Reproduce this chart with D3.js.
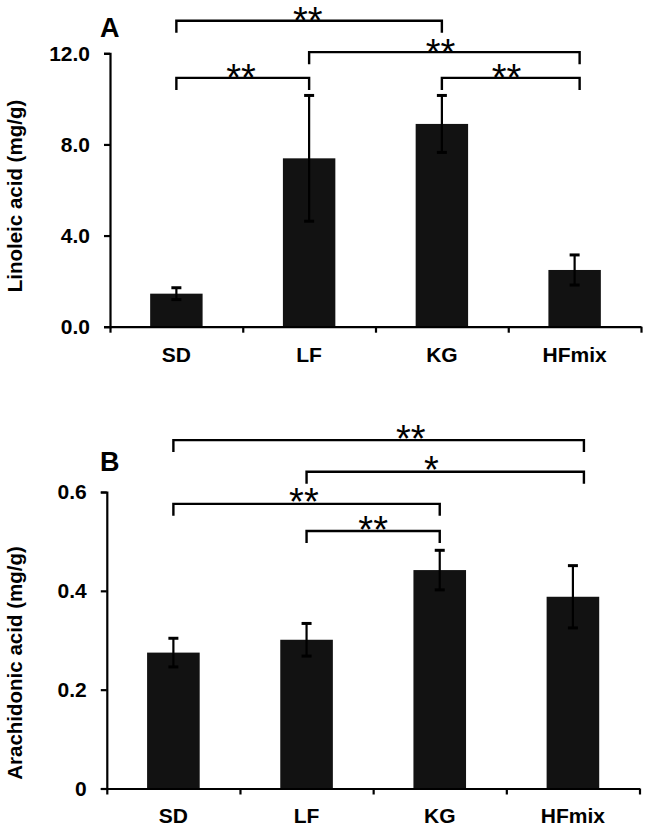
<!DOCTYPE html>
<html>
<head>
<meta charset="utf-8">
<script src="https://cdn.jsdelivr.net/npm/d3@7/dist/d3.min.js"></script>
<style>
  html, body { margin: 0; padding: 0; background: #fff; }
  svg { display: block; }
  text { font-family: "Liberation Sans", Arial, sans-serif; }
</style>
</head>
<body>
<svg id="chart" width="649" height="829"></svg>
<script>
// ---------- DATA ----------
const categories = ["SD", "LF", "KG", "HFmix"];

// Panel A: Linoleic acid (mg/g)
const linoleicMeans = [1.45, 7.39, 8.90, 2.49];
const linoleicErrors = [0.26, 2.76, 1.25, 0.66];
const linoleicTicks = [0, 4, 8, 12];
const linoleicTickLabels = ["0.0", "4.0", "8.0", "12.0"];
const linoleicSigFrom = ["SD", "LF", "SD", "KG"];
const linoleicSigTo = ["KG", "HFmix", "LF", "HFmix"];
const linoleicSigLevel = [13.43, 12.05, 10.92, 10.92];
const linoleicSigText = ["**", "**", "**", "**"];
const linoleicSigTextAt = [0.495, 0.486, 0.487, 0.47];

// Panel B: Arachidonic acid (mg/g)
const arachidonicMeans = [0.275, 0.301, 0.442, 0.388];
const arachidonicErrors = [0.029, 0.033, 0.040, 0.063];
const arachidonicTicks = [0, 0.2, 0.4, 0.6];
const arachidonicTickLabels = ["0", "0.2", "0.4", "0.6"];
const arachidonicSigFrom = ["SD", "LF", "SD", "LF"];
const arachidonicSigTo = ["HFmix", "HFmix", "KG", "KG"];
const arachidonicSigLevel = [0.705, 0.641, 0.576, 0.521];
const arachidonicSigText = ["**", "*", "**", "**"];
const arachidonicSigTextAt = [0.578, 0.45, 0.49, 0.5];

// ---------- DRAWING ----------
const svg = d3.select("#chart");

function drawPanel(o) {
  const g = svg.append("g");
  const xb = d3.scaleBand().domain(categories).range([o.left, o.right]).padding(0);
  const bw = xb.bandwidth();
  const barW = bw * 0.395;
  const cx = c => xb(c) + bw / 2;
  const y = d3.scaleLinear().domain([0, o.ymax]).range([o.bottom, o.top]);

  // bars
  g.selectAll("rect.bar").data(categories).join("rect")
    .attr("class", "bar")
    .attr("x", c => cx(c) - barW / 2)
    .attr("width", barW)
    .attr("y", (c, i) => y(o.means[i]))
    .attr("height", (c, i) => y(0) - y(o.means[i]))
    .attr("fill", "#121212");

  // error bars
  const capW = 10;
  const eb = g.selectAll("g.err").data(categories).join("g").attr("class", "err")
    .attr("stroke", "#000").attr("stroke-width", 2.2).attr("fill", "none");
  eb.append("line")
    .attr("x1", c => cx(c)).attr("x2", c => cx(c))
    .attr("y1", (c, i) => y(o.means[i] + o.errors[i]))
    .attr("y2", (c, i) => y(o.means[i] - o.errors[i]));
  eb.append("line")
    .attr("x1", c => cx(c) - capW / 2).attr("x2", c => cx(c) + capW / 2)
    .attr("y1", (c, i) => y(o.means[i] + o.errors[i]))
    .attr("y2", (c, i) => y(o.means[i] + o.errors[i]))
    .attr("stroke-width", 3);
  eb.append("line")
    .attr("x1", c => cx(c) - capW / 2).attr("x2", c => cx(c) + capW / 2)
    .attr("y1", (c, i) => y(o.means[i] - o.errors[i]))
    .attr("y2", (c, i) => y(o.means[i] - o.errors[i]))
    .attr("stroke-width", 3);

  // y axis
  const yAxis = d3.axisLeft(y)
    .tickValues(o.ticks)
    .tickFormat((d, i) => o.tickLabels[i])
    .tickSize(6).tickSizeOuter(6).tickPadding(14);
  const ya = g.append("g").attr("transform", `translate(${o.left},0)`).call(yAxis);
  ya.selectAll("path, line").attr("stroke", "#000").attr("stroke-width", 2.2);
  ya.selectAll("text")
    .attr("font-family", '"Liberation Sans", Arial, sans-serif')
    .attr("font-size", 21).attr("font-weight", "bold").attr("fill", "#000");

  // x axis line + boundary ticks
  const xlin = d3.scaleLinear().domain([0, categories.length]).range([o.left, o.right]);
  const xAxis = d3.axisBottom(xlin)
    .tickValues(d3.range(0, categories.length + 1))
    .tickFormat("").tickSize(6).tickSizeOuter(0);
  const xa = g.append("g").attr("transform", `translate(0,${o.bottom})`).call(xAxis);
  xa.selectAll("path, line").attr("stroke", "#000").attr("stroke-width", 2.2);

  // category labels
  const xlAxis = d3.axisBottom(xb).tickSize(0).tickPadding(0);
  const xl = g.append("g").attr("transform", `translate(0,${o.bottom})`).call(xlAxis);
  xl.select("path").remove();
  xl.selectAll("text")
    .attr("y", o.xLabelDy).attr("dy", 0)
    .attr("font-family", '"Liberation Sans", Arial, sans-serif')
    .attr("font-size", 21).attr("font-weight", "bold").attr("fill", "#000");

  // y title
  g.append("text")
    .attr("transform", `translate(${o.titleX},${o.titleY}) rotate(-90)`)
    .attr("text-anchor", "middle")
    .attr("font-size", 20.5).attr("font-weight", "bold").attr("fill", "#000")
    .text(o.title);

  // panel letter
  g.append("text")
    .attr("x", o.letterX).attr("y", o.letterY)
    .attr("font-size", 27).attr("font-weight", "bold").attr("fill", "#000")
    .text(o.letter);

  // significance brackets
  const drop = 12;
  o.sigFrom.forEach((f, i) => {
    const t = o.sigTo[i];
    const x1 = cx(f) + (f === "HFmix" ? o.hfPad : 0);
    const x2 = cx(t) + (t === "HFmix" ? o.hfPad : 0);
    const yy = y(o.sigLevel[i]);
    g.append("path")
      .attr("d", `M${x1},${yy + drop}V${yy}H${x2}V${yy + drop}`)
      .attr("fill", "none").attr("stroke", "#000").attr("stroke-width", 2.4);
    g.append("text")
      .attr("x", x1 + (x2 - x1) * o.sigTextAt[i])
      .attr("y", yy - o.starGap + 22)
      .attr("text-anchor", "middle")
      .attr("font-size", 38).attr("fill", "#000")
      .text(o.sigText[i]);
  });
}

drawPanel({
  left: 110, right: 641, top: 53.3, bottom: 326.7, ymax: 12,
  means: linoleicMeans, errors: linoleicErrors,
  ticks: linoleicTicks, tickLabels: linoleicTickLabels,
  sigFrom: linoleicSigFrom, sigTo: linoleicSigTo, sigLevel: linoleicSigLevel,
  sigText: linoleicSigText, sigTextAt: linoleicSigTextAt,
  title: "Linoleic acid (mg/g)", titleX: 22, titleY: 196,
  letter: "A", letterX: 100, letterY: 37,
  xLabelDy: 35, hfPad: 5, starGap: 8.5
});

drawPanel({
  left: 106.8, right: 639.5, top: 492, bottom: 788.5, ymax: 0.6,
  means: arachidonicMeans, errors: arachidonicErrors,
  ticks: arachidonicTicks, tickLabels: arachidonicTickLabels,
  sigFrom: arachidonicSigFrom, sigTo: arachidonicSigTo, sigLevel: arachidonicSigLevel,
  sigText: arachidonicSigText, sigTextAt: arachidonicSigTextAt,
  title: "Arachidonic acid (mg/g)", titleX: 22, titleY: 663,
  letter: "B", letterX: 100, letterY: 471,
  xLabelDy: 34.5, hfPad: 11, starGap: 10.5
});
</script>
</body>
</html>
